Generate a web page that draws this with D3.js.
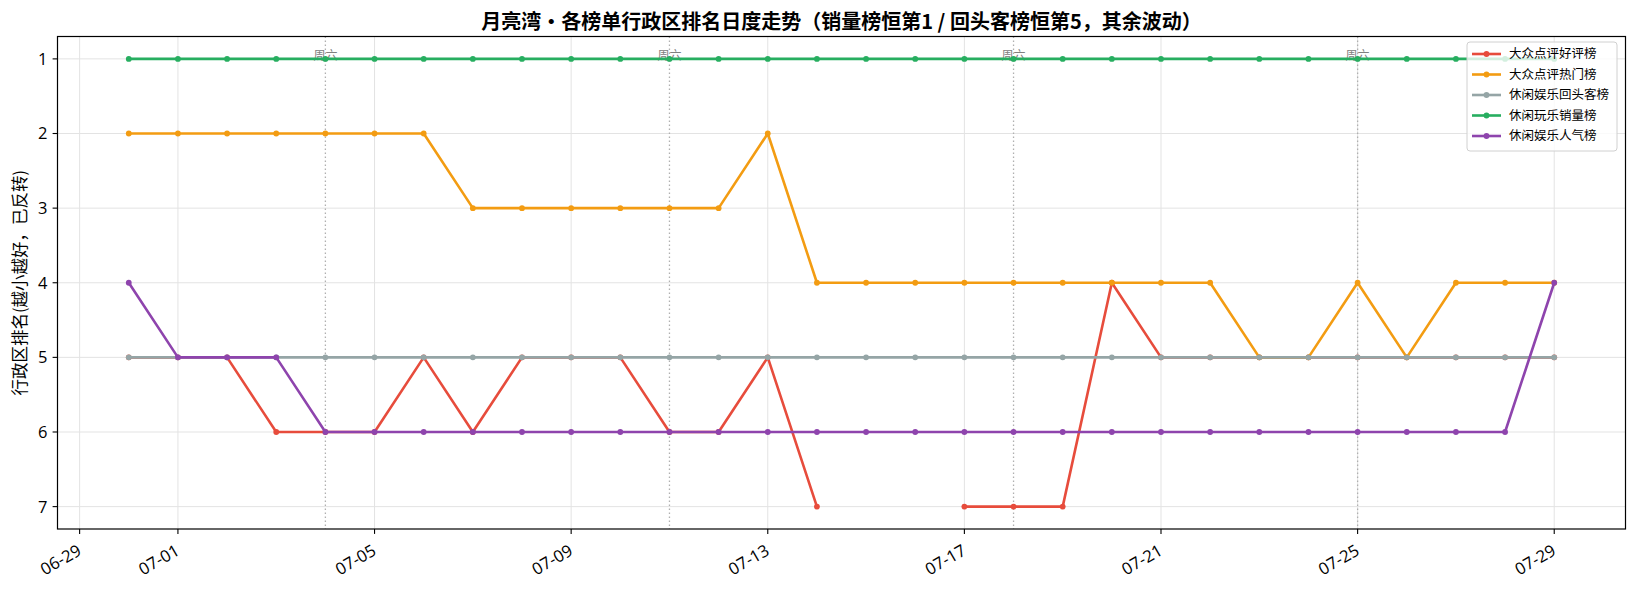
<!DOCTYPE html>
<html><head><meta charset="utf-8">
<script src="https://cdn.jsdelivr.net/npm/d3@7"></script>
<style>body{margin:0;background:#fff}</style>
</head><body><svg id="c" width="1635" height="590"></svg>
<script>
const YEAR = 2026;
const dates = ["06-30","07-01","07-02","07-03","07-04","07-05","07-06","07-07","07-08","07-09",
  "07-10","07-11","07-12","07-13","07-14","07-15","07-16","07-17","07-18","07-19",
  "07-20","07-21","07-22","07-23","07-24","07-25","07-26","07-27","07-28","07-29"];
const seriesNames = ["大众点评好评榜","大众点评热门榜","休闲娱乐回头客榜","休闲玩乐销量榜","休闲娱乐人气榜"];
const seriesColors = ["#e74c3c","#f39c12","#95a5a6","#27ae60","#8e44ad"];
const haoping = [5,5,5,6,6,6,5,6,5,5,5,6,6,5,7,null,null,7,7,7,4,5,5,5,5,5,5,5,5,5];
const remen   = [2,2,2,2,2,2,2,3,3,3,3,3,3,2,4,4,4,4,4,4,4,4,4,5,5,4,5,4,4,4];
const huitouke= [5,5,5,5,5,5,5,5,5,5,5,5,5,5,5,5,5,5,5,5,5,5,5,5,5,5,5,5,5,5];
const xiaoliang=[1,1,1,1,1,1,1,1,1,1,1,1,1,1,1,1,1,1,1,1,1,1,1,1,1,1,1,1,1,1];
const renqi   = [4,5,5,5,6,6,6,6,6,6,6,6,6,6,6,6,6,6,6,6,6,6,6,6,6,6,6,6,6,4];
const seriesValues = [haoping, remen, huitouke, xiaoliang, renqi];
const saturdays = ["07-04","07-11","07-18","07-25"];
const xTickLabels = ["06-29","07-01","07-05","07-09","07-13","07-17","07-21","07-25","07-29"];
const yTicks = [1,2,3,4,5,6,7];
const titleText = "月亮湾・各榜单行政区排名日度走势（销量榜恒第1 / 回头客榜恒第5，其余波动）";
const yLabel = "行政区排名(越小越好，已反转)";
const satLabel = "周六";

const parse = s => { const [m,d] = s.split("-").map(Number); return new Date(Date.UTC(YEAR, m-1, d)); };
const L = 57.5, R = 1625.5, T = 36.5, B = 529;
const svg = d3.select("#c");
const first = parse(dates[0]), last = parse(dates[dates.length-1]);
const pad = (last - first) * 0.05;
const x = d3.scaleUtc().domain([new Date(+first - pad), new Date(+last + pad)]).range([L, R]);
const y = d3.scaleLinear().domain([0.7, 7.3]).range([T, B]);
const cjkFont = '"Noto Sans CJK SC","Noto Sans",sans-serif';
const tickFont = '"Open Sans","Noto Sans",sans-serif';

// grid
const g = svg.append("g");
g.selectAll("line.gx").data(xTickLabels).join("line")
  .attr("x1", d => x(parse(d))).attr("x2", d => x(parse(d))).attr("y1", T).attr("y2", B)
  .attr("stroke", "#e3e3e3").attr("stroke-width", 1);
g.selectAll("line.gy").data(yTicks).join("line")
  .attr("y1", d => y(d)).attr("y2", d => y(d)).attr("x1", L).attr("x2", R)
  .attr("stroke", "#e3e3e3").attr("stroke-width", 1);

// saturdays
svg.append("g").selectAll("line").data(saturdays).join("line")
  .attr("x1", d => x(parse(d))).attr("x2", d => x(parse(d))).attr("y1", T).attr("y2", B)
  .attr("stroke", "#b0b0b0").attr("stroke-width", 1.3).attr("stroke-dasharray", "1.5,2.5");
svg.append("g").selectAll("text").data(saturdays).join("text")
  .attr("x", d => x(parse(d))).attr("y", y(1) + 1.5).attr("text-anchor", "middle")
  .style("font-family", cjkFont).attr("font-size", 12).attr("fill", "#808080").text(satLabel);

// series
const line = d3.line().defined(d => d.v != null).x(d => x(d.t)).y(d => y(d.v));
seriesValues.forEach((vals, i) => {
  const pts = vals.map((v, j) => ({t: parse(dates[j]), v}));
  const sg = svg.append("g");
  sg.append("path").datum(pts).attr("d", line).attr("fill", "none")
    .attr("stroke", seriesColors[i]).attr("stroke-width", 2.6).attr("stroke-linejoin", "round");
  sg.selectAll("circle").data(pts.filter(p => p.v != null)).join("circle")
    .attr("cx", p => x(p.t)).attr("cy", p => y(p.v)).attr("r", 2.9).attr("fill", seriesColors[i]);
});

// frame
svg.append("rect").attr("x", L).attr("y", T).attr("width", R - L).attr("height", B - T)
  .attr("fill", "none").attr("stroke", "#000").attr("stroke-width", 1.2);

// x axis
const xa = svg.append("g");
xTickLabels.forEach(s => {
  const px = x(parse(s));
  xa.append("line").attr("x1", px).attr("x2", px).attr("y1", B).attr("y2", B + 4.9).attr("stroke", "#000").attr("stroke-width", 1.1);
  xa.append("text").attr("transform", `translate(${px},${B + 8}) rotate(-30)`)
    .attr("text-anchor", "end").attr("dx", -6).attr("dy", 16).attr("font-size", 16.7).style("font-family", tickFont)
    .attr("fill", "#000").text(s);
});
// y axis
const ya = svg.append("g");
yTicks.forEach(v => {
  ya.append("line").attr("x1", L - 4.9).attr("x2", L).attr("y1", y(v)).attr("y2", y(v)).attr("stroke", "#000").attr("stroke-width", 1.1);
  ya.append("text").attr("x", L - 10).attr("y", y(v)).attr("dy", "0.36em").attr("text-anchor", "end")
    .attr("font-size", 16.5).style("font-family", tickFont).attr("fill", "#000").text(v);
});
svg.append("text").attr("transform", `translate(26,${(T + B) / 2}) rotate(-90)`)
  .attr("text-anchor", "middle").attr("font-size", 16.5).style("font-family", cjkFont).attr("fill", "#000").text(yLabel);

// title
svg.append("text").attr("x", (L + R) / 2).attr("y", 28.5).attr("text-anchor", "middle")
  .attr("font-size", 20).attr("font-weight", "bold").style("font-family", cjkFont).attr("fill", "#000").text(titleText);

// legend
const lg = svg.append("g");
lg.append("rect").attr("x", 1467).attr("y", 42).attr("width", 150).attr("height", 109).attr("rx", 3)
  .attr("fill", "#fff").attr("fill-opacity", 0.8).attr("stroke", "#d0d0d0").attr("stroke-width", 1);
seriesNames.forEach((n, i) => {
  const yy = 54 + i * 20.5;
  lg.append("line").attr("x1", 1472).attr("x2", 1501).attr("y1", yy).attr("y2", yy)
    .attr("stroke", seriesColors[i]).attr("stroke-width", 2.6);
  lg.append("circle").attr("cx", 1486.5).attr("cy", yy).attr("r", 2.9).attr("fill", seriesColors[i]);
  lg.append("text").attr("x", 1509).attr("y", yy).attr("dy", "0.35em").attr("font-size", 12.5)
    .style("font-family", cjkFont).attr("fill", "#000").text(n);
});
</script></body></html>
